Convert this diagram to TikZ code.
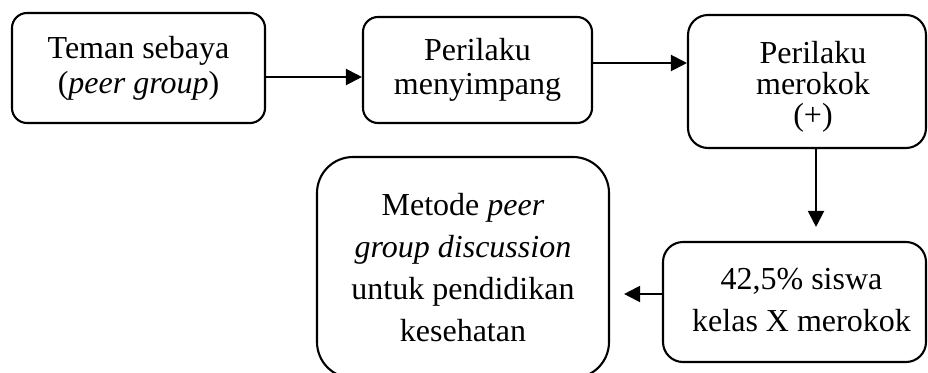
\documentclass[tikz,border=0pt]{standalone}
\usepackage{fontspec}
\setmainfont{Liberation Serif}
\usetikzlibrary{arrows.meta}
\begin{document}
\begin{tikzpicture}[x=1pt,y=-1pt,
  box/.style={draw=black, line width=2.1pt, align=center, inner sep=0pt},
  txt/.style={align=center, inner sep=0pt},
  arr/.style={line width=2.1pt, -{Triangle[length=16pt,width=16pt]}}]
\useasboundingbox (0,0) rectangle (928,372);
\node[box, rounded corners=15pt, minimum width=253pt, minimum height=110pt,
      font=\fontsize{32}{35}\selectfont] (b1) at (138.5,68)
  {Teman sebaya\\(\textit{peer group})};
\node[box, rounded corners=15pt, minimum width=229pt, minimum height=106pt,
      font=\fontsize{32}{34}\selectfont] (b2) at (477.5,70)
  {Perilaku\\menyimpang};
\node[box, rounded corners=20pt, minimum width=238pt, minimum height=133pt] (b3) at (807,81.5) {};
\node[txt, font=\fontsize{32}{31}\selectfont] (t3) at (813,87)
  {Perilaku\\merokok\\(+)};
\node[box, rounded corners=36pt, minimum width=292pt, minimum height=221pt,
      font=\fontsize{32}{42}\selectfont] (b4) at (463,267.5)
  {Metode \textit{peer}\\\textit{group discussion}\\untuk pendidikan\\kesehatan};
\node[box, rounded corners=20pt, minimum width=263pt, minimum height=120pt] (b5) at (794.5,302) {};
\node[txt, font=\fontsize{32}{42}\selectfont] (t5) at (801.5,300)
  {42,5\% siswa\\kelas X merokok};
\draw[arr] (b1.east |- 0,77) -- (b2.west |- 0,77);
\draw[arr] (b2.east |- 0,63) -- (b3.west |- 0,63);
\draw[arr, shorten >=14pt] (b3.south -| 816,0) -- (b5.north -| 816,0);
\draw[arr, shorten >=14pt] (b5.west |- 0,294) -- (b4.east |- 0,294);
\end{tikzpicture}
\end{document}
